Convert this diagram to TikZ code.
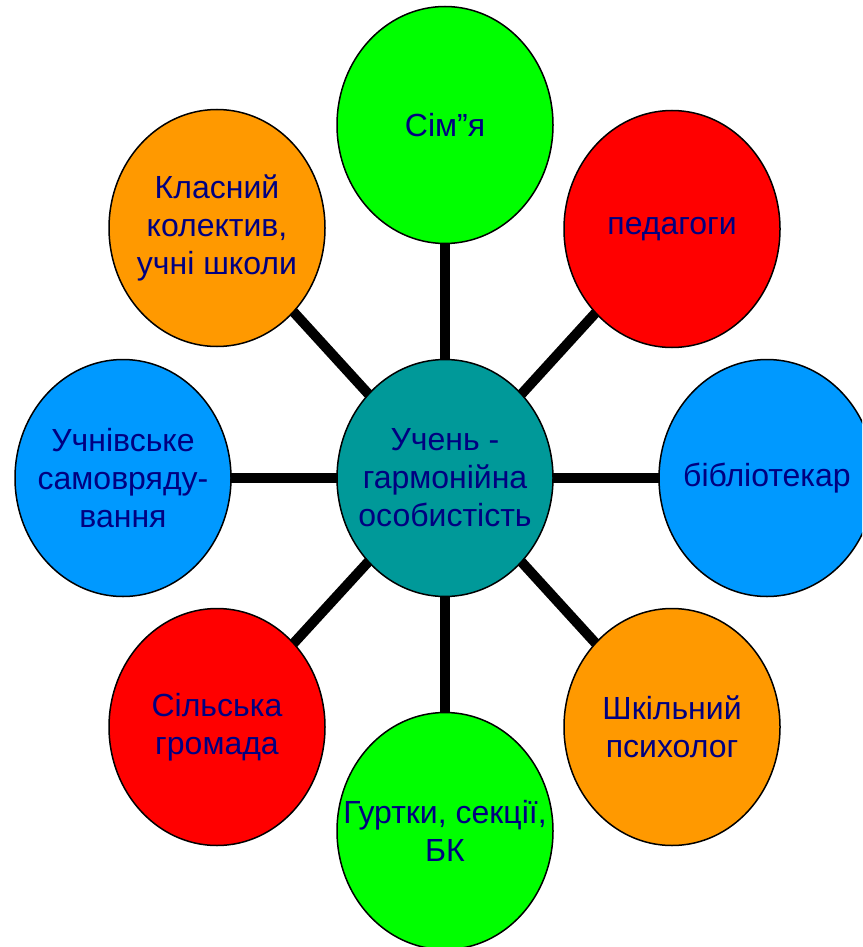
\documentclass[tikz,border=0pt]{standalone}
\usepackage{fontspec}
\setmainfont{Liberation Sans}
\usetikzlibrary{shapes.geometric,backgrounds}
\definecolor{navytext}{RGB}{0,0,128}
\definecolor{cgreen}{RGB}{0,255,0}
\definecolor{cred}{RGB}{255,0,0}
\definecolor{cblue}{RGB}{0,153,255}
\definecolor{corange}{RGB}{255,153,0}
\definecolor{cteal}{RGB}{0,153,153}
\begin{document}
\begin{tikzpicture}[x=1pt,y=-1pt,
  bub/.style={ellipse, draw=black, line width=1.5pt, minimum width=216pt, minimum height=237pt, inner sep=0pt},
  txt/.style={align=center, font=\fontsize{32}{38}\selectfont, text=navytext, inner sep=0pt},
  link/.style={line width=10pt, draw=black}]
\clip (0,0) rectangle (862,947);
\node[bub, fill=cteal, label={[txt]center:{Учень -\\гармонійна\\особистість}}] (c) at (445,478) {};
\node[bub, fill=cgreen, label={[txt]center:{Сім”я}}] (top) at (445,125) {};
\node[bub, fill=cred, label={[txt]center:{педагоги}}] (ur) at (672,229) {};
\node[bub, fill=cblue, label={[txt]center:{бібліотекар}}] (r) at (767,478) {};
\node[bub, fill=corange, label={[txt]center:{Шкільний\\психолог}}] (lr) at (672,727) {};
\node[bub, fill=cgreen, label={[txt]center:{Гуртки, секції,\\БК}}] (bot) at (445,831) {};
\node[bub, fill=cred, label={[txt]center:{Сільська\\громада}}] (ll) at (217,727) {};
\node[bub, fill=cblue, label={[txt]center:{Учнівське\\самовряду-\\вання}}] (l) at (123,478) {};
\node[bub, fill=corange, label={[txt]center:{Класний\\колектив,\\учні школи}}] (ul) at (217,228) {};
\begin{scope}[on background layer]
\foreach \n in {top,ur,r,lr,bot,ll,l,ul}
  \draw[link] (c.center) -- (\n.center);
\end{scope}
\end{tikzpicture}
\end{document}
